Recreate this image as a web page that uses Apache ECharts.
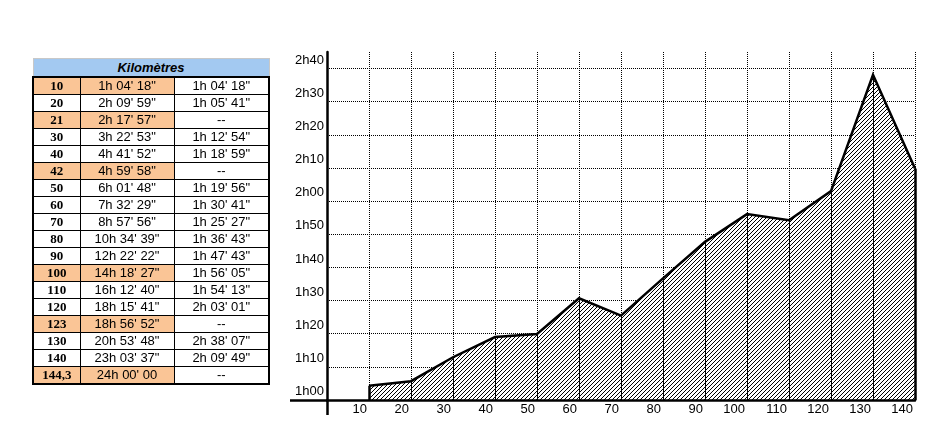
<!DOCTYPE html>
<html><head><meta charset="utf-8">
<script src="https://cdn.jsdelivr.net/npm/echarts@6/dist/echarts.min.js"></script>
<style>
html,body{margin:0;padding:0;background:#fff;}
#chart{position:absolute;left:0;top:0;width:939px;height:439px;}
#tbl{position:absolute;left:32px;top:58px;border-collapse:collapse;table-layout:fixed;width:236px;z-index:2;
  font-family:'Liberation Sans',Arial,sans-serif;font-size:13px;color:#000;}
#tbl th{background:#A3C9F1;height:17px;line-height:17px;padding:0;font-weight:bold;font-style:italic;
  border-top:1px solid #c8c8c8;border-left:1px solid #c8c8c8;border-right:1px solid #c8c8c8;border-bottom:2px solid #000;}
#tbl td{border:1px solid #000;height:16px;line-height:16px;padding:0;text-align:center;white-space:nowrap;overflow:hidden;}
#tbl td.km{font-family:'Liberation Serif','Times New Roman',serif;font-weight:bold;border-left:2px solid #000;}
#tbl td.sp{border-right:2px solid #000;}
#tbl tr.last td{border-bottom:2px solid #000;}
#tbl td.hl{background:#FAC596;}
</style></head><body>
<div id="chart"></div>
<table id="tbl"><colgroup><col style="width:47px"><col style="width:94px"><col style="width:95px"></colgroup></table>
<script>
// ---- data ----
const tableTitle = 'Kilomètres';
const tableKm = ['10','20','21','30','40','42','50','60','70','80','90','100','110','120','123','130','140','144,3'];
const cumulativeTimes = ["1h 04' 18\"","2h 09' 59\"","2h 17' 57\"","3h 22' 53\"","4h 41' 52\"","4h 59' 58\"",
  "6h 01' 48\"","7h 32' 29\"","8h 57' 56\"","10h 34' 39\"","12h 22' 22\"","14h 18' 27\"","16h 12' 40\"",
  "18h 15' 41\"","18h 56' 52\"","20h 53' 48\"","23h 03' 37\"","24h 00' 00"];
const splitTimes = ["1h 04' 18\"","1h 05' 41\"","--","1h 12' 54\"","1h 18' 59\"","--","1h 19' 56\"",
  "1h 30' 41\"","1h 25' 27\"","1h 36' 43\"","1h 47' 43\"","1h 56' 05\"","1h 54' 13\"","2h 03' 01\"",
  "--","2h 38' 07\"","2h 09' 49\"","--"];
const highlightedKm = ['10','21','42','100','123','144,3'];
const yMin = 60, yMax = 165, yStep = 10;

// ---- table ----
const tbl = document.getElementById('tbl');
let html = '<tr><th colspan="3">' + tableTitle + '</th></tr>';
tableKm.forEach((k, i) => {
  const hl = highlightedKm.indexOf(k) >= 0 ? ' hl' : '';
  html += '<tr' + (i === tableKm.length - 1 ? ' class="last"' : '') + '>' +
    '<td class="km' + hl + '">' + k + '</td>' +
    '<td class="ct' + hl + '">' + cumulativeTimes[i] + '</td>' +
    '<td class="sp">' + splitTimes[i] + '</td></tr>';
});
tbl.insertAdjacentHTML('beforeend', html);

// ---- chart data ----
function toMinutes(s) {
  const m = s.match(/(\d+)h\s*(\d+)'\s*(\d+)/);
  return (+m[1]) * 60 + (+m[2]) + (+m[3]) / 60;
}
const chartKm = [], chartMinutes = [];
tableKm.forEach((k, i) => {
  if (splitTimes[i] !== '--') { chartKm.push(k); chartMinutes.push(toMinutes(splitTimes[i])); }
});
const xCats = [''].concat(chartKm);
const seriesData = ['-'].concat(chartMinutes);

function fmtY(v) {
  if (v % 10 !== 0) return '';
  const h = Math.floor(v / 60), m = v % 60;
  return h + 'h' + (m < 10 ? '0' : '') + m;
}

// hatch pattern
const pc = document.createElement('canvas');
pc.width = 4; pc.height = 4;
const pctx = pc.getContext('2d');
pctx.fillStyle = '#fff'; pctx.fillRect(0, 0, 4, 4);
pctx.fillStyle = '#000';
for (let x = 0; x < 4; x++) pctx.fillRect(x, 3 - x, 1, 1);

const dropLines = chartKm.map((k, i) => {
  const edge = (i === 0 || i === chartKm.length - 1);
  return [{ coord: [k, chartMinutes[i]], lineStyle: { width: edge ? 2.5 : 1 } }, { coord: [k, yMin] }];
});

const font = { color: '#000', fontFamily: "'Liberation Sans', Arial, sans-serif", fontSize: 13 };
const chart = echarts.init(document.getElementById('chart'), null, { renderer: 'canvas' });
chart.setOption({
  animation: false,
  backgroundColor: '#fff',
  grid: { left: 327, right: 24, top: 52, bottom: 39, containLabel: false },
  xAxis: [
    { type: 'category', data: xCats, boundaryGap: false, position: 'top',
      axisLine: { show: false }, axisTick: { show: false }, axisLabel: { show: false },
      splitLine: { show: true, interval: 0, showMinLine: false, lineStyle: { color: '#000', width: 1, type: [1, 1] } } },
    { type: 'category', data: xCats, boundaryGap: false, position: 'bottom', z: 10,
      axisLine: { show: true, onZero: false, lineStyle: { color: '#000', width: 2.5 } },
      axisTick: { show: true, interval: (idx) => idx === 0, length: 15, lineStyle: { color: '#000', width: 2.5 } },
      axisLabel: Object.assign({ interval: 0, align: 'right', padding: [0, 2, 0, 0], margin: 3 }, font),
      splitLine: { show: false } }
  ],
  yAxis: [
    { type: 'value', min: yMin, max: yMax, interval: yStep, position: 'left',
      axisLine: { show: true, lineStyle: { color: '#000', width: 2.5 } },
      axisTick: { show: false },
      axisLabel: Object.assign({ formatter: fmtY, showMaxLabel: false, verticalAlign: 'bottom', margin: 3, padding: [0, 0, 2, 0] }, font),
      splitLine: { show: true, showMinLine: false, showMaxLine: false, lineStyle: { color: '#000', width: 1, type: [1, 1] } } },
    { type: 'value', min: yMin, max: yMax, interval: yStep, position: 'left', z: 10,
      axisLine: { show: false },
      axisTick: { show: true, customValues: [yMin], length: 37, lineStyle: { color: '#000', width: 2.5 } },
      axisLabel: { show: false },
      splitLine: { show: false } }
  ],
  series: [{
    type: 'line', xAxisIndex: 1, yAxisIndex: 0, data: seriesData, symbol: 'none', connectNulls: false, z: 2,
    lineStyle: { color: '#000', width: 2.5, join: 'miter' },
    areaStyle: { color: { image: pc, repeat: 'repeat' }, opacity: 1, origin: 'start' },
    markLine: { silent: true, symbol: 'none', label: { show: false }, animation: false,
      lineStyle: { color: '#000', type: 'solid', width: 1 }, data: dropLines }
  }]
});
</script>
</body></html>
